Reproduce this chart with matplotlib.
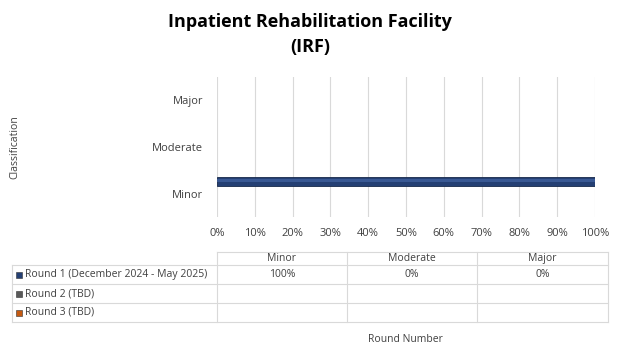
import matplotlib
matplotlib.use("Agg")
import matplotlib.pyplot as plt
from matplotlib.patches import Rectangle

plt.rcParams['font.family'] = ['Open Sans', 'DejaVu Sans']

categories = ["Minor", "Moderate", "Major"]
series_names = ["Round 1 (December 2024 - May 2025)", "Round 2 (TBD)", "Round 3 (TBD)"]
series_values = [[100, 0, 0], [None, None, None], [None, None, None]]
series_colors = ["#243f73", "#595959", "#c55a11"]
highlight_colors = ["#3f5f9c", "#8c8c8c", "#e07b3a"]
xticks = [0, 10, 20, 30, 40, 50, 60, 70, 80, 90, 100]

W, H = 623, 363
fig = plt.figure(figsize=(W / 100, H / 100), dpi=100)

# main bar axes
ax = fig.add_axes([217 / W, 1 - 217 / H, (595 - 217) / W, 140 / H])
offsets = [0.255, 0.0, -0.255]
bh = 0.19
for vals, off, c, hc in zip(series_values, offsets, series_colors, highlight_colors):
    for i, v in enumerate(vals):
        if not v:
            continue
        y = i + off
        ax.barh(y, v, height=bh, color=c, edgecolor="#17284a", linewidth=0.6, zorder=3)
        ax.barh(y + bh * 0.15, v, height=bh * 0.3, color=hc, linewidth=0, alpha=0.8, zorder=4)

ax.set_xlim(0, 100)
ax.set_ylim(-0.5, 2.5)
ax.set_xticks(xticks)
ax.set_xticklabels([f"{t}%" for t in xticks], fontsize=8, color="#404040")
ax.set_yticks(range(len(categories)))
ax.set_yticklabels(categories, fontsize=8, color="#404040")
ax.tick_params(length=0, pad=8)
ax.tick_params(axis="y", pad=10)
ax.grid(axis="x", color="#d9d9d9", linewidth=0.8, zorder=0)
for s in ax.spines.values():
    s.set_visible(False)
ax.set_ylabel("Classification", fontsize=7.5, color="#404040", labelpad=95)

# title
fig.text(310 / W, 1 - 22 / H, "Inpatient Rehabilitation Facility", ha="center", va="center",
         fontsize=13, fontweight="bold")
fig.text(310 / W, 1 - 47 / H, "(IRF)", ha="center", va="center", fontsize=13, fontweight="bold")

# data table below the chart
tx = fig.add_axes([0, 0, 1, 1], zorder=-1)
tx.set_xlim(0, W)
tx.set_ylim(H, 0)
tx.axis("off")
cols = [12, 217, 347, 477, 608]
rows = [252, 265, 284, 303, 322]
lc = "#d9d9d9"
tx.plot([cols[1], cols[-1]], [rows[0], rows[0]], color=lc, lw=0.8)
for r in rows[1:]:
    tx.plot([cols[0], cols[-1]], [r, r], color=lc, lw=0.8)
for i, c in enumerate(cols):
    top = rows[0] if i > 0 else rows[1]
    tx.plot([c, c], [top, rows[-1]], color=lc, lw=0.8)
for j, cat in enumerate(categories):
    tx.text((cols[j + 1] + cols[j + 2]) / 2, (rows[0] + rows[1]) / 2, cat,
            ha="center", va="center", fontsize=7.5, color="#404040")
for i, (name, vals, c) in enumerate(zip(series_names, series_values, series_colors)):
    yc = (rows[i + 1] + rows[i + 2]) / 2
    tx.add_patch(Rectangle((16, yc - 3), 6, 6, facecolor=c, edgecolor="#333333", lw=0.4))
    tx.text(25, yc, name, ha="left", va="center", fontsize=7.5, color="#404040")
    for j, v in enumerate(vals):
        if v is not None:
            tx.text((cols[j + 1] + cols[j + 2]) / 2, yc, f"{v}%", ha="center", va="center",
                    fontsize=7.5, color="#404040")
tx.text(405, 339, "Round Number", ha="center", va="center", fontsize=7.5, color="#404040")

fig.savefig("out.png", dpi=100)
